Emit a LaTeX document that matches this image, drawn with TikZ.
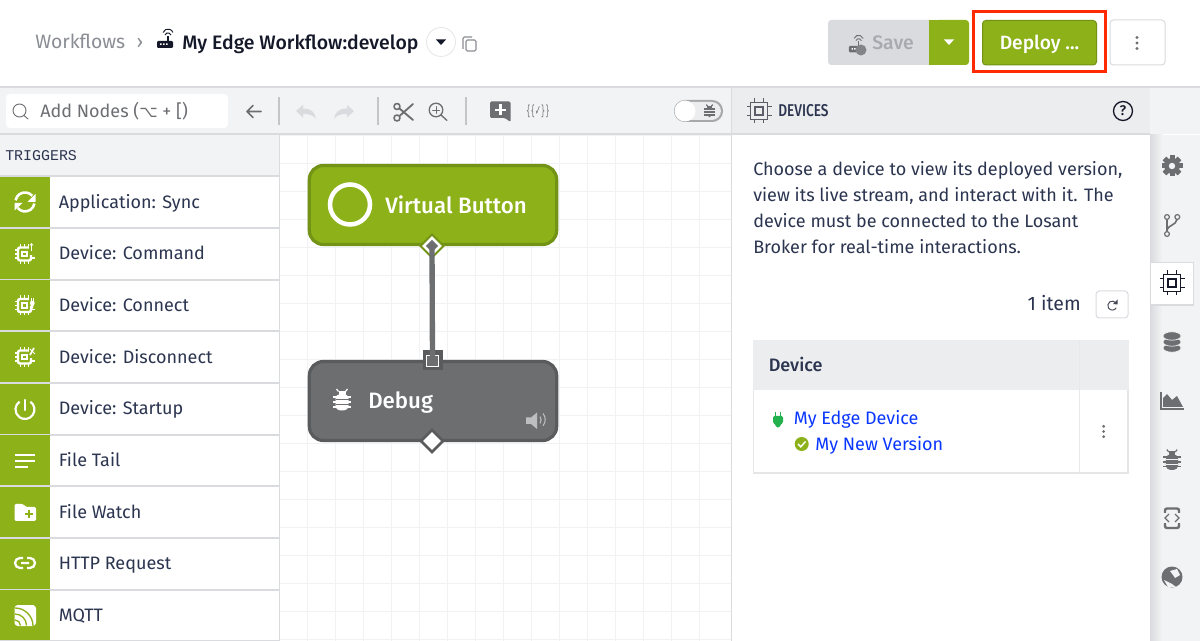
\documentclass[tikz,border=0pt]{standalone}
\usepackage{fontspec}
\setmainfont{Fira Sans}
\newfontfamily\symfont{DejaVu Sans}
\newfontfamily\trigfont{Liberation Mono}
\newfontfamily\medfont{Fira Sans Medium}
\newfontfamily\condfont[FakeStretch=0.8]{Fira Sans Medium}
\usetikzlibrary{shapes.geometric}
\definecolor{leaf}{HTML}{8DB119}
\definecolor{leafdark}{HTML}{729315}
\definecolor{slate}{HTML}{6D6E70}
\definecolor{slatedark}{HTML}{5A5B5D}
\definecolor{ink}{HTML}{2C3550}
\definecolor{night}{HTML}{141829}
\definecolor{fog}{HTML}{8A8D93}
\definecolor{rule}{HTML}{DADBDE}
\definecolor{toolbg}{HTML}{F2F3F5}
\definecolor{headbg}{HTML}{ECEDEF}
\definecolor{gridline}{HTML}{F1F2F3}
\definecolor{iconc}{HTML}{6C6E72}
\definecolor{linkc}{HTML}{0A37FF}
\definecolor{alert}{HTML}{FF2A00}
\definecolor{plugc}{HTML}{22B14C}
\tikzset{
  x=0.75pt,y=-0.75pt,
  rowlabel/.style={anchor=base west,inner sep=0pt,text=ink,font=\fontsize{13.5}{16}\selectfont},
  bodytext/.style={anchor=north west,inner sep=0pt,text=ink,font=\fontsize{13.5}{19.5}\selectfont,align=left},
  linktext/.style={anchor=base west,inner sep=0pt,text=linkc,font=\fontsize{13.5}{16}\selectfont},
  flownode/.style={rectangle,rounded corners=10.5pt,minimum width=185.5pt,minimum height=59.25pt,line width=2.4pt},
  flowlabel/.style={anchor=base west,inner sep=0pt,text=white,font=\medfont\fontsize{16.7}{20}\selectfont},
  outport/.style={diamond,inner sep=0pt,minimum size=#1},
  btn/.style={rounded corners=2.5pt,line width=0.75pt},
  thinicon/.style={draw=iconc,line width=1.2pt,line cap=round,line join=round},
  wire/.style={line width=4pt,draw=slate},
  pics/chipline/.style={code={
    \draw[#1,line width=0.8pt] (-8.5,-8.5) rectangle (8.5,8.5) (-4,-4) rectangle (4,4);
    \foreach \p in {-4.5,4.5}{
      \draw[#1,line width=0.8pt] (\p,-8.5) -- (\p,-12.5) (\p,8.5) -- (\p,12.5) (-8.5,\p) -- (-12.5,\p) (8.5,\p) -- (12.5,\p);
    }
  }},
  pics/chipfill/.style={code={
    \draw[white,line width=1.8pt,rounded corners=1.5pt] (-6.5,-6.5) rectangle (6.5,6.5);
    \fill[white] (-3.2,-3.2) rectangle (3.2,3.2);
    \fill[leaf] (-1.3,-1.3) rectangle (1.3,1.3);
    \foreach \p in {-4,0,4}{
      \draw[white,line width=1.3pt] (\p,-7) -- (\p,-10) (\p,7) -- (\p,10) (-7,\p) -- (-10,\p);
    }
    \draw[white,line width=1.3pt] (7,4) -- (10,4);
    \fill[leaf] (4.5,-11) rectangle (11,1);
  }},
  pics/bugicon/.style 2 args={code={
    \fill[#1,rounded corners=3.5pt] (-6.5,-6) rectangle (6.5,10.5);
    \fill[#1] (-3.5,-9) rectangle (3.5,-5);
    \foreach \p in {-3,2,7}{
      \draw[#1,line width=1.2pt] (-9,\p) -- (9,\p);
    }
    \draw[#1,line width=0.9pt] (-3.5,-8.5) -- (-5.5,-11) (3.5,-8.5) -- (5.5,-11);
    \draw[#2,line width=0.45pt] (-6.5,-0.5) -- (6.5,-0.5) (-6.5,4.5) -- (6.5,4.5);
  }},
  pics/router/.style={code={
    \fill[#1,rounded corners=0.8pt] (-8,0) rectangle (8,7);
    \draw[#1,line width=1pt] (3,0) -- (3,-5);
    \draw[#1,line width=0.7pt] (0,-6) arc (200:340:3.2) (-2,-8.5) arc (200:340:5.3);
    \fill[white] (-5,2.5) rectangle (-3.5,4) (-2,2.5) rectangle (-0.5,4) (1,2.5) rectangle (2.5,4);
  }},
  pics/dotsv/.style={code={
    \foreach \p in {-5.5,0,5.5}{
      \fill[#1] (0,\p) circle[radius=1.6];
    }
  }},
  pics/caret/.style={code={
    \fill[#1] (-5,-2.5) -- (5,-2.5) -- (0,3) -- cycle;
  }}
}
\begin{document}
\begin{tikzpicture}
  \useasboundingbox (0,0) rectangle (1200,641);
  \fill[white] (0,0) rectangle (1200,641);

  \fill[toolbg] (0,88) rectangle (1200,134);
  \fill[toolbg] (0,135) rectangle (279,177);
  \fill[headbg] (732,88) rectangle (1150,134);
  \foreach \g in {0,...,15}{
    \draw[gridline,line width=0.75pt] (279.3+28*\g,135) -- (279.3+28*\g,641);
  }
  \foreach \g in {0,...,18}{
    \draw[gridline,line width=0.75pt] (280,135.3+28*\g) -- (731,135.3+28*\g);
  }
  \fill[white] (732,135) rectangle (1150,641);
  \fill[toolbg] (1150,135) rectangle (1200,641);
  \shade[left color=rule,right color=toolbg] (1150,135) rectangle (1162,641);
  \draw[rule,line width=1.5pt] (0,87) -- (1200,87);
  \draw[rule,line width=1.5pt] (0,134.5) -- (1150,134.5);
  \draw[rule,line width=1pt] (279.5,135) -- (279.5,641);
  \draw[rule,line width=1pt] (731.5,88) -- (731.5,641);

  \node[anchor=base west,inner sep=0pt,text=fog,font=\fontsize{14.5}{18}\selectfont] (crumbroot) at (35,49) {Workflows};
  \node[anchor=base,inner sep=0pt,text=fog,font=\fontsize{14.5}{18}\selectfont] (crumbsep) at (140,49) {›};
  \pic at (165,41) {router=night};
  \node[anchor=base west,inner sep=0pt,text=night,font=\medfont\fontsize{14.6}{18}\selectfont] (flowtitle) at (182,49.5) {My Edge Workflow:develop};
  \draw[rule!70,fill=white,line width=0.6pt] (441,42) circle[radius=14.5];
  \pic at (441,42) {caret=night};
  \draw[fog,line width=0.8pt,rounded corners=1pt] (463,49) -- (463,37) -- (472,37);
  \draw[fog,line width=0.8pt,rounded corners=1pt] (466,40) rectangle (476,51);

  \fill[rule,rounded corners=2.5pt] (828,20) rectangle (940,65);
  \fill[leaf,rounded corners=2.5pt] (935,20) rectangle (969,65);
  \fill[leaf] (929,20) rectangle (940,65);
  \pic[scale=0.9] at (856,46) {router=iconc};
  \fill[iconc!85] (861,50) circle[radius=5.5];
  \node[anchor=base west,inner sep=0pt,text=fog!75,font=\medfont\fontsize{14.6}{18}\selectfont] (savelabel) at (872,49.5) {Save};
  \pic at (949,42) {caret=white};
  \path[fill=leaf,draw=leafdark,btn] (982.5,20.5) rectangle (1096.5,65);
  \node[anchor=base,inner sep=0pt,text=white,font=\medfont\fontsize{14.4}{18}\selectfont] (deploylabel) at (1039.5,49.5) {Deploy ...};
  \draw[alert,line width=2.25pt] (973.5,12) rectangle (1105,72);
  \path[fill=white,draw=rule,btn] (1110,20) rectangle (1165,65);
  \pic at (1137,43) {dotsv=iconc};

  \path[fill=white,rounded corners=3pt] (6,94) rectangle (228,128);
  \draw[thinicon,line width=0.7pt] (19.5,110.5) circle[radius=6.5] (24,115.5) -- (28,119);
  \node[rowlabel,text=iconc] (searchbox) at (40,118) {Add Nodes ({\symfont\fontsize{12}{16}\selectfont ⌥} + [)};
  \draw[thinicon] (261,111.5) -- (247,111.5) (253,105.5) -- (247,111.5) -- (253,117.5);
  \foreach \s in {279,378,466}{
    \draw[rule!90!black,line width=0.8pt] (\s,97) -- (\s,125);
  }
  \fill[rule] (296,111) -- (303,105) -- (303,108.5) .. controls (311,108.5) and (315,112) .. (316,119) .. controls (313,115) and (309,114) .. (303,114) -- (303,117.5) -- cycle;
  \fill[rule] (354,111) -- (347,105) -- (347,108.5) .. controls (339,108.5) and (335,112) .. (334,119) .. controls (337,115) and (341,114) .. (347,114) -- (347,117.5) -- cycle;
  \draw[thinicon] (397,106.5) circle[radius=3] (397,118) circle[radius=3];
  \draw[thinicon,line width=1.4pt] (399.5,108.5) -- (413,120) (399.5,116) -- (413,104);
  \draw[thinicon,line width=1pt] (436,110) circle[radius=6.8] (441,115) -- (447,120.5);
  \draw[thinicon,line width=0.7pt] (432.5,110) -- (439.5,110) (436,106.5) -- (436,113.5);
  \fill[iconc,rounded corners=1pt] (490,101.5) -- (510.5,101.5) -- (510.5,122) -- (505,118) -- (490,118) -- cycle;
  \draw[white,line width=1.6pt] (495,110) -- (506,110) (500.5,104.5) -- (500.5,115.5);
  \node[inner sep=0pt,text=iconc,xscale=0.5,transform shape,font=\symfont\fontsize{10.5}{12}\selectfont] (varsbtn) at (538,111) {\{\{✓\}\}};
  \fill[iconc!60,rounded corners=8pt] (674,100) rectangle (723,122);
  \fill[headbg,rounded corners=7pt] (676,102) rectangle (721,120);
  \fill[white] (685,111) circle[radius=10.5];
  \pic[scale=0.58] at (709.5,111) {bugicon={iconc}{headbg}};

  \pic at (759,111) {chipline=night!70};
  \node[anchor=base west,inner sep=0pt,text=ink,font=\condfont\fontsize{12.8}{16}\selectfont] (paneltitle) at (778,116.5) {DEVICES};
  \draw[night,line width=1pt] (1123,111) circle[radius=9.5];
  \node[inner sep=0pt,text=night,font=\medfont\fontsize{10.5}{12}\selectfont] (helpmark) at (1123,111) {?};

  \node[anchor=base west,inner sep=0pt,text=ink,font=\trigfont\fontsize{11.2}{14}\selectfont] (triggerhead) at (5,160.3) {TRIGGERS};
  \foreach \i/\lbl in {0/Application: Sync,1/Device: Command,2/Device: Connect,3/Device: Disconnect,4/Device: Startup,5/File Tail,6/File Watch,7/HTTP Request,8/MQTT}{
    \fill[leaf] (0,177+51.65*\i) rectangle (50,228+51.65*\i);
    \draw[rule,line width=1.5pt] (0,228+51.65*\i) -- (279,228+51.65*\i);
    \node[rowlabel] (row\i) at (58.5,208.2+51.65*\i) {\lbl};
  }
  \draw[rule,line width=1.5pt] (0,176.5) -- (279,176.5);

  \draw[white,line width=1.9pt] (15.6,200.3) arc (190:320:9.5);
  \fill[white] (35.5,194) -- (35.5,202) -- (27.5,202) -- cycle;
  \draw[white,line width=1.9pt] (34.4,203.6) arc (10:140:9.5);
  \fill[white] (14.5,210.5) -- (14.5,203) -- (22.5,203) -- cycle;
  \pic at (24.5,254) {chipfill};
  \draw[white,line width=0.8pt] (31.5,244) -- (31.5,251.5);
  \fill[white] (29.5,245.5) -- (33.5,245.5) -- (31.5,243) -- cycle;
  \pic at (24.5,305.5) {chipfill};
  \fill[white,rounded corners=0.8pt] (30,301) -- (34.5,301) -- (34.5,304.5) -- (33,306) -- (33,309) -- (31.5,309) -- (31.5,306) -- (30,304.5) -- cycle;
  \draw[white,line width=0.7pt] (31,298) -- (31,301) (33.5,298) -- (33.5,301);
  \pic at (24.5,357) {chipfill};
  \draw[white,line width=1.3pt] (30,355) -- (34,348);
  \draw[white,line width=0.6pt] (30,349) -- (35,354);
  \draw[white,line width=1.6pt,line cap=round] (25,400) -- (25,410);
  \draw[white,line width=1.6pt] (30.4,401.7) arc (305:595:9.5);
  \draw[white,line width=1.5pt] (15,455.5) -- (35,455.5) (15,461) -- (35,461) (15,467) -- (28,467);
  \fill[white,rounded corners=1pt] (14.5,504) -- (23,504) -- (26,507) -- (36,507) -- (36,521) -- (14.5,521) -- cycle;
  \draw[leaf,line width=1pt] (25,514) -- (33,514) (29,510) -- (29,518);
  \draw[white,line width=1.7pt] (23,558) -- (20,558) arc (270:90:5) -- (23,568) (27,558) -- (30,558) arc (-90:90:5) -- (27,568) (21,563) -- (29,563);
  \fill[white,rounded corners=2.5pt] (14.5,605) rectangle (36,626);
  \draw[leaf,line width=1pt] (15,614) arc (-90:0:11.5) (15,608) arc (-90:0:18);
  \draw[leaf,line width=1pt] (15,620) arc (-90:0:5.5);

  \node[flownode,fill=leaf,draw=leafdark] (vbtn) at (433,205) {};
  \node[flownode,fill=slate,draw=slatedark] (debugnode) at (433,401) {};
  \draw[white,line width=3.4pt] (350,204.5) circle[radius=20];
  \node[flowlabel] (vbtnlabel) at (385,214) {Virtual Button};
  \pic at (342,400) {bugicon={white}{slate}};
  \node[flowlabel] (debuglabel) at (368,408.5) {Debug};
  \fill[white!55!slate] (526,417.5) -- (531,417.5) -- (537,412.5) -- (537,429) -- (531,424) -- (526,424) -- cycle;
  \draw[white!55!slate,line width=0.8pt] (540,416.5) arc (-35:35:6) (543,413.5) arc (-40:40:9.5);
  \node[outport=19.5pt,fill=leafdark] (vbtnoutrim) at (432,246) {};
  \node[outport=15pt,fill=white] (vbtnoutring) at (432,246) {};
  \node[outport=9.5pt,fill=slate] (vbtnout) at (432,246) {};
  \node[rectangle,minimum size=15pt,inner sep=0pt,fill=slatedark] (debuginrim) at (432.5,360.5) {};
  \node[rectangle,minimum size=8.5pt,inner sep=0pt,fill=slate,draw=white,line width=0.8pt] (debugin) at (432.5,361) {};
  \draw[wire] (vbtnout.center) -- (debugin.center);
  \node[outport=19.5pt,fill=slatedark] (debugoutrim) at (432,441) {};
  \node[outport=13.5pt,fill=white] (debugout) at (432,441) {};

  \node[bodytext] (helptext) at (753,161.5) {Choose a device to view its deployed version,\\view its live stream, and interact with it. The\\device must be connected to the Losant\\Broker for real-time interactions.};
  \node[anchor=base east,inner sep=0pt,text=ink,font=\fontsize{14.6}{16}\selectfont] (itemcount) at (1081,310.5) {1 item};
  \path[fill=white,draw=rule,btn] (1096,291) rectangle (1128,318);
  \draw[night!80,line width=0.7pt] (1116,303) arc (-35:-330:4.5);
  \fill[night!80] (1117.5,299.5) -- (1117.5,304.5) -- (1113,304) -- cycle;

  \fill[headbg] (753,340) rectangle (1128.5,390);
  \draw[rule!70,line width=0.8pt] (753.5,390) -- (753.5,473) -- (1128,473) -- (1128,390);
  \draw[rule!60,line width=0.8pt] (1079.5,340) -- (1079.5,473);
  \node[anchor=base west,inner sep=0pt,text=ink,font=\medfont\fontsize{13.5}{16}\selectfont] (devicehead) at (768.5,372) {Device};
  \fill[plugc,rounded corners=1pt] (773,416) -- (783,416) -- (783,423) -- (780,425) -- (780,427.5) -- (776,427.5) -- (776,425) -- (773,423) -- cycle;
  \draw[plugc,line width=1pt] (775.5,412) -- (775.5,417) (780.5,412) -- (780.5,417);
  \node[linktext] (devicelink) at (793.5,425) {My Edge Device};
  \fill[leaf] (801.7,444) circle[radius=7];
  \draw[white,line width=1.1pt] (798,444) -- (800.8,446.8) -- (805.6,441.4);
  \node[linktext] (versionlink) at (815,451) {My New Version};
  \pic[scale=0.95] at (1103.7,431.5) {dotsv=iconc};

  \fill[white] (1151,262.5) rectangle (1193.5,305);
  \draw[rule,line width=0.8pt] (1150.5,305) -- (1193.5,305) -- (1193.5,262.5) -- (1150.5,262.5);
  \pic at (1172,283) {chipline=night};

  \foreach \t in {0,45,...,315}{
    \fill[iconc,rotate around={\t:(1172,166)}] (1169.5,155.5) rectangle (1174.5,176.5);
  }
  \fill[iconc] (1172,166) circle[radius=7.8];
  \fill[toolbg] (1172,166) circle[radius=3.2];
  \draw[iconc,line width=0.9pt] (1167,217) circle[radius=2.4] (1167,234) circle[radius=2.4] (1177.3,217) circle[radius=2.4];
  \draw[iconc,line width=1.2pt] (1167,219.5) -- (1167,231.5) (1167,229.5) .. controls (1169,225) and (1176,225) .. (1177,219.5);
  \foreach \d in {348,342,336}{
    \filldraw[fill=iconc,draw=toolbg,line width=0.5pt] (1172,\d) ellipse (9 and 4.2);
  }
  \draw[iconc,line width=0.8pt] (1161,392) -- (1161,409) -- (1184,409);
  \fill[iconc] (1163,407) -- (1163,398) -- (1167,394) -- (1172,400) -- (1177,396) -- (1183,407) -- cycle;
  \pic[scale=0.95] at (1172,460) {bugicon={iconc}{toolbg}};
  \draw[iconc,line width=1.8pt,rounded corners=1.5pt] (1165,513) -- (1165,508.5) -- (1179,508.5) -- (1179,513) (1165,523) -- (1165,528) -- (1179,528) -- (1179,523);
  \draw[iconc,line width=1pt] (1169,514) -- (1165,518) -- (1169,522) (1175,514) -- (1179,518) -- (1175,522);
  \fill[iconc] (1172,577) circle[radius=10.5];
  \fill[toolbg] (1170,571) -- (1177,569) -- (1180,575) -- (1175,578) -- (1173,575) -- cycle;
  \fill[toolbg] (1164,580) -- (1172,584) -- (1176,587) -- (1168,587) -- cycle;
\end{tikzpicture}
\end{document}
